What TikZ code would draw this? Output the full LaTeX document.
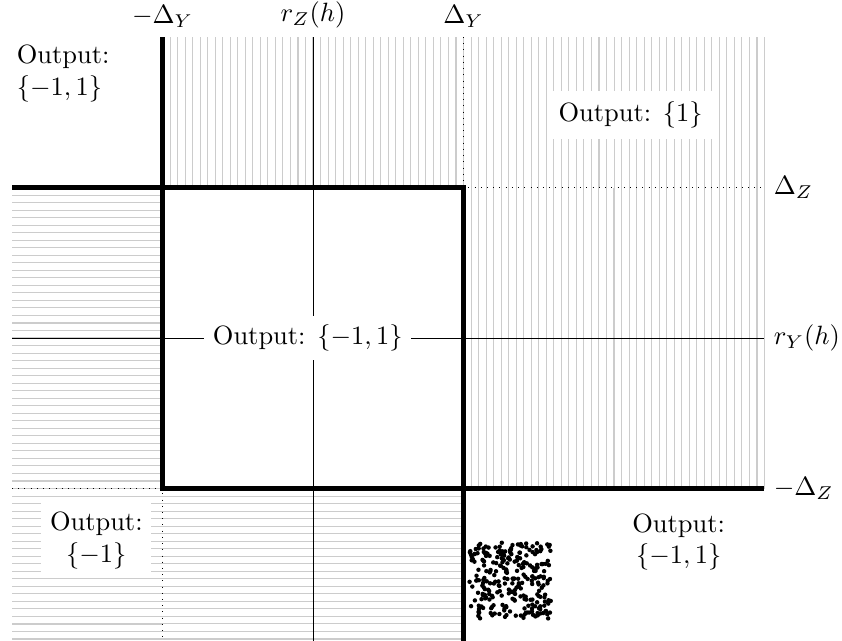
\documentclass[tikz,border=0pt]{standalone}
\usepackage{amsmath, amssymb}
\usepackage{xcolor}
\usetikzlibrary{calc, positioning}

\tikzset{
    hatch/.style={gray!40, line width=0.4pt},
    border/.style={line width=1.6pt},
    rline/.style={line width=0.35pt},
    outbox/.style={fill=white, align=center},
}

\begin{document}
\begin{tikzpicture}[scale=2.0]
    \useasboundingbox (-2.08,-2.007) rectangle (3.515,2.246);

    % 1. Vùng gạch dọc (output {1})
    \foreach \x in {-0.95,-0.9,...,3.01} {
        \draw[hatch] (\x,1) -- (\x,2);
    }
    \foreach \x in {1.05,1.1,...,3.01} {
        \draw[hatch] (\x,-1) -- (\x,1);
    }

    % 2. Vùng gạch ngang (output {-1})
    \foreach \y in {0.95,0.9,...,-2.01} {
        \draw[hatch] (-2,\y) -- (-1,\y);
    }
    \foreach \y in {-1.05,-1.1,...,-2.01} {
        \draw[hatch] (-1,\y) -- (1,\y);
    }

    % 3. Các đường r_Z(h), r_Y(h)
    \draw[rline] (0,2) -- (0,-2.01);
    \draw[rline] (-2,0) -- (3,0);
    \draw[dotted, rline] (1,2) -- (1,1) -- (3,1);
    \draw[dotted, rline] (-2,-1) -- (-1,-1) -- (-1,-2.01);

    % 4. Biên dày
    \draw[border] (-1,2) -- (-1,-1) -- (3,-1);
    \draw[border] (-2,1) -- (1,1) -- (1,-2.01);

    % 5. Vùng chấm ngẫu nhiên
    \pgfmathsetseed{17}
    \foreach \i in {1,...,270} {
        \fill ({1.04+0.54*rnd},{-1.87+0.51*rnd}) circle (0.42pt);
    }

    % 6. Nhãn
    \node[above] (mdy) at (-1,2) {$-\Delta_Y$};
    \node[above] (rz) at (0,2) {$r_Z(h)$};
    \node[above] (dy) at (1,2) {$\Delta_Y$};
    \node[right] (dz) at (3,1) {$\Delta_Z$};
    \node[right] (ry) at (3,0) {$r_Y(h)$};
    \node[right] (mdz) at (3,-1) {$-\Delta_Z$};

    \node[align=left, anchor=west] (outtl) at (-2.03,1.76) {Output:\\ $\{-1,1\}$};
    \node[outbox, inner sep=4pt] (outone) at (2.11,1.48) {Output: $\{1\}$};
    \node[outbox] (outmid) at (-0.035,0) {Output: $\{-1,1\}$};
    \node[outbox] (outneg) at (-1.44,-1.345) {Output:\\ $\{-1\}$};
    \node[outbox] (outbr) at (2.43,-1.355) {Output:\\ $\{-1,1\}$};
\end{tikzpicture}
\end{document}
